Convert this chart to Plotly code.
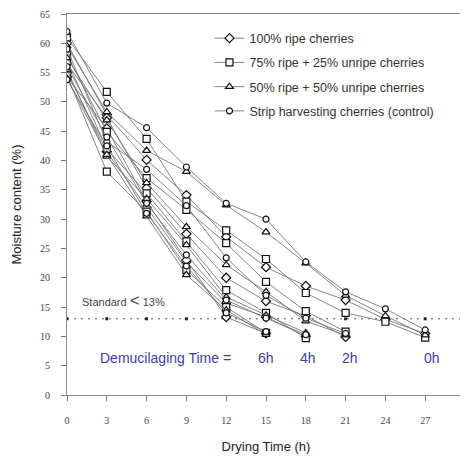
import plotly.graph_objects as go

hours = [0, 3, 6, 9, 12, 15, 18, 21, 24, 27]

# Demucilaging 0h (drying to 27 h)
ripe100_0h = [60.0, 47.8, 40.1, 34.1, 27.0, 21.8, 18.6, 16.2, 12.9, 10.5]
ripe75_0h = [61.0, 51.7, 43.7, 33.0, 28.1, 23.2, 17.4, 14.0, 12.5, 9.8]
ripe50_0h = [59.5, 48.3, 41.7, 38.1, 32.4, 27.8, 22.5, 17.0, 13.5, 10.2]
strip_0h = [62.0, 49.8, 45.6, 38.9, 32.7, 30.0, 22.7, 17.6, 14.7, 11.1]

# Demucilaging 2h (drying to 21 h)
ripe100_2h = [56.5, 47.3, 35.3, 27.5, 20.0, 16.0, 13.5, 9.9]
ripe75_2h = [58.0, 44.9, 37.0, 31.6, 25.9, 19.3, 14.3, 10.8]
ripe50_2h = [57.5, 46.9, 36.2, 28.7, 22.2, 17.6, 12.6, 10.2]
strip_2h = [59.0, 43.2, 38.5, 32.3, 23.4, 17.0, 13.1, 10.5]

# Demucilaging 4h (drying to 18 h)
ripe100_4h = [55.0, 41.5, 32.0, 22.7, 15.7, 13.3, 10.0]
ripe75_4h = [57.0, 42.0, 34.4, 26.2, 17.9, 14.0, 9.7]
ripe50_4h = [55.5, 40.7, 33.5, 25.6, 16.7, 13.6, 10.6]
strip_4h = [56.0, 44.0, 32.7, 23.9, 16.2, 13.1, 10.3]

# Demucilaging 6h (drying to 15 h)
ripe100_6h = [54.2, 45.5, 33.0, 23.0, 13.3, 10.5]
ripe75_6h = [54.5, 38.1, 31.3, 21.3, 15.0, 10.6]
ripe50_6h = [54.0, 41.0, 30.5, 20.5, 14.5, 10.3]
strip_6h = [53.8, 42.5, 31.0, 22.0, 14.0, 10.8]

treatments = ["100% ripe cherries", "75% ripe + 25% unripe cherries",
              "50% ripe + 50% unripe cherries", "Strip harvesting cherries (control)"]
symbols = ["diamond", "square", "triangle-up", "circle"]
series = [
    [ripe100_0h, ripe100_2h, ripe100_4h, ripe100_6h],
    [ripe75_0h, ripe75_2h, ripe75_4h, ripe75_6h],
    [ripe50_0h, ripe50_2h, ripe50_4h, ripe50_6h],
    [strip_0h, strip_2h, strip_4h, strip_6h],
]

standard = 13
std_x = [0, 3, 6, 9, 12, 15, 18, 21, 24, 27, 30]

demu_labels = ["6h", "4h", "2h", "0h"]
demu_label_x = [15, 18.2, 21.3, 27.5]

fig = go.Figure()

fig.add_trace(go.Scatter(
    x=std_x, y=[standard] * len(std_x), mode="lines+markers",
    line=dict(color="#555", width=1, dash="2px,5px"),
    marker=dict(symbol="square", size=3, color="#222"),
    showlegend=False, hoverinfo="skip"))

for name, sym, group in zip(treatments, symbols, series):
    for i, vals in enumerate(group):
        fig.add_trace(go.Scatter(
            x=hours[:len(vals)], y=vals, mode="lines+markers",
            name=name, legendgroup=name, showlegend=(i == 0),
            line=dict(color="#777", width=0.9),
            marker=dict(symbol=sym, size=7 if sym != "circle" else 6,
                        color="white", line=dict(color="#111", width=1.2))))

fig.add_annotation(x=1.0, y=16.2, xref="x", yref="y", xanchor="left",
                   text="Standard <span style='font-size:17px'>&lt;</span> 13%",
                   showarrow=False, font=dict(family="Liberation Sans", size=11, color="#444"))
fig.add_annotation(x=7.4, y=6.3, xref="x", yref="y",
                   text="Demucilaging Time =", showarrow=False,
                   font=dict(family="Liberation Sans", size=14, color="#3d3d9e"))
for lab, lx in zip(demu_labels, demu_label_x):
    fig.add_annotation(x=lx, y=6.3, xref="x", yref="y", text=lab, showarrow=False,
                       font=dict(family="Liberation Sans", size=14, color="#3d3d9e"))

# page body has an 8px margin; figure size/margins compensate for it
fig.update_layout(
    width=460, height=451,
    margin=dict(l=59, r=3, t=6, b=64),
    plot_bgcolor="white", paper_bgcolor="white",
    legend=dict(x=0.358, y=0.975, xanchor="left", yanchor="top",
                bgcolor="rgba(0,0,0,0)", tracegroupgap=5,
                font=dict(family="Liberation Sans", size=12.5, color="#333")),
    xaxis=dict(range=[0, 30], tickvals=std_x, ticks="outside", ticklen=5,
               tickcolor="#777", showgrid=False, zeroline=False,
               showline=True, linecolor="#888", mirror=True, linewidth=1,
               ticklabelstandoff=11, automargin=False,
               tickfont=dict(family="Liberation Serif", size=10, color="#444"),
               title=dict(text="Drying Time (h)", standoff=16,
                          font=dict(family="Liberation Sans", size=13, color="#222"))),
    yaxis=dict(range=[0, 65], dtick=5, ticks="outside", ticklen=5,
               tickcolor="#777", showgrid=False, zeroline=False,
               showline=True, linecolor="#888", mirror=True, linewidth=1,
               ticklabelstandoff=9, automargin=False,
               tickfont=dict(family="Liberation Serif", size=10, color="#444"),
               title=dict(text="Moisture content (%)", standoff=15,
                          font=dict(family="Liberation Sans", size=13, color="#222"))),
)

fig.write_html("out.html")
